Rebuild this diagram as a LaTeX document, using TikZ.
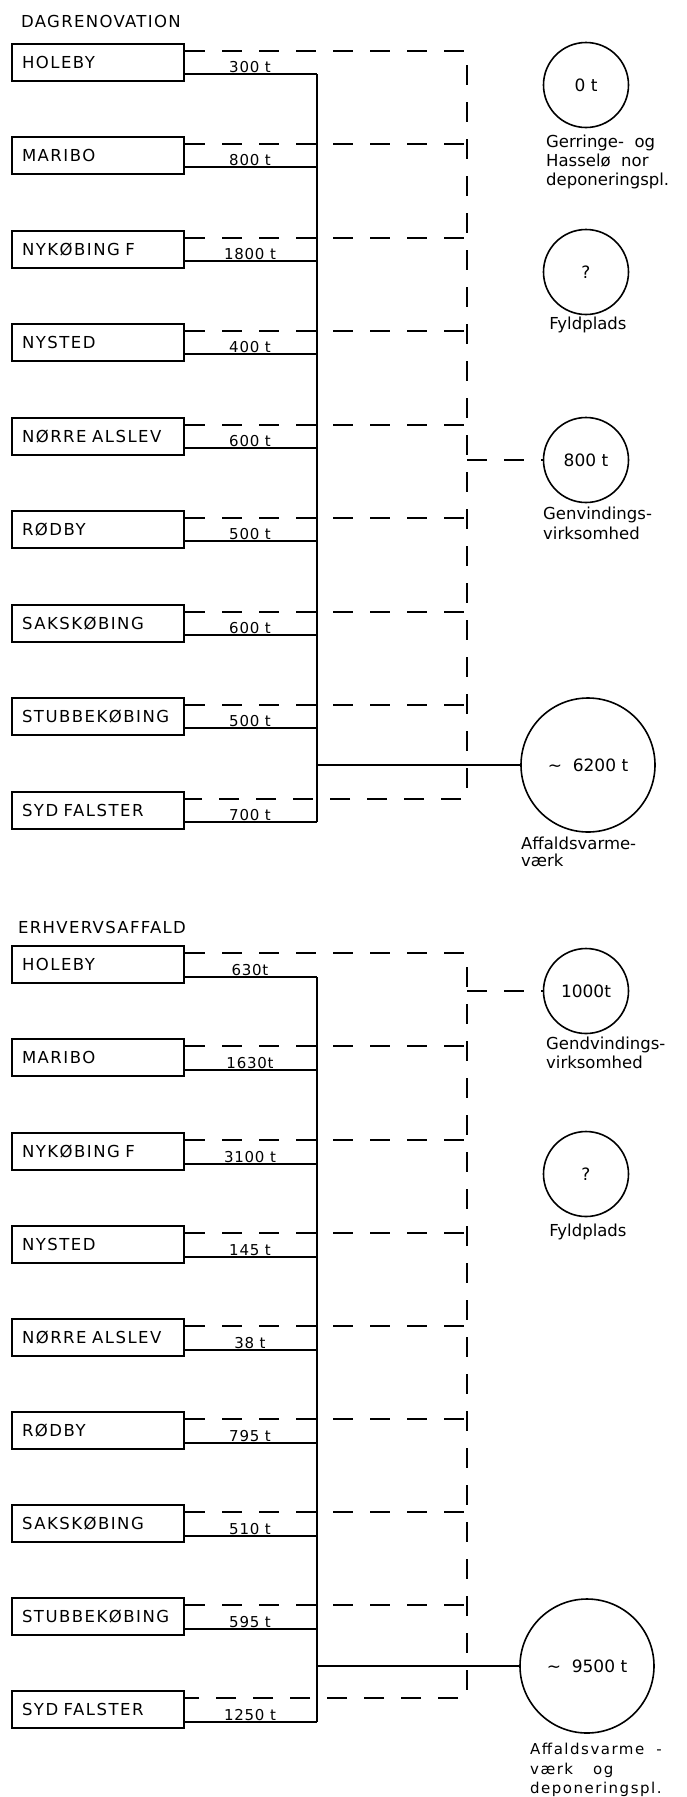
\documentclass[tikz,border=0pt]{standalone}
\usepackage{fontspec}
\setmainfont{DejaVu Sans}
\begin{document}
\begin{tikzpicture}[x=1pt,y=-1pt,
  every node/.style={inner sep=0pt},
  town/.style={draw, line width=2pt, anchor=north west, minimum width=172pt,
    minimum height=37pt, text width=152pt, inner xsep=10pt, align=left,
    font=\fontsize{16.5}{18}\selectfont\addfontfeatures{LetterSpace=9}},
  amt/.style={anchor=south, inner sep=1pt,
    font=\fontsize{15}{17}\selectfont\addfontfeatures{LetterSpace=5}},
  flow/.style={line width=2pt},
  alt/.style={line width=2pt, dash pattern=on 20pt off 17pt},
  site/.style={circle, draw, line width=1.6pt, minimum size=85pt,
    font=\fontsize{17}{19}\selectfont},
  plant/.style={site, minimum size=134pt},
  sitenote/.style={anchor=north west, align=left},
  head/.style={anchor=base west,
    font=\fontsize{16.5}{18}\selectfont\addfontfeatures{LetterSpace=8}}]
\useasboundingbox (0,0) rectangle (687,1797);

% ---------------- DAGRENOVATION ----------------
\node[head] (t1) at (21,27) {DAGRENOVATION};
\foreach \lab/\amt [count=\i from 0] in {HOLEBY/300 t, MARIBO/800 t,
    NYKØBING F/1800 t, NYSTED/400 t, NØRRE ALSLEV/600 t, RØDBY/500 t,
    SAKSKØBING/600 t, STUBBEKØBING/500 t, SYD FALSTER/700 t}{
  \pgfmathsetmacro\dy{round(50.5+93.5*\i)}
  \node[town] (u\i) at (11,\dy-8) {\lab};
  \coordinate (ud\i) at (467,\dy);
  \coordinate (us\i) at (317,\dy+23);
  \draw[flow] (u\i.east |- us\i) -- (us\i);
  \node[amt] (ua\i) at (250,\dy+23) {\amt};
}
\foreach \i in {1,...,7}{\draw[alt] (u\i.north east |- ud\i) -- (ud\i);}
\draw[alt] (u0.north east |- ud0) -- (ud0) -- (ud8) -- (u8.north east |- ud8);
\draw[flow] (us0) -- (us8);

\node[site] (c1) at (586,85) {0 t};
\node[sitenote, font=\fontsize{16.5}{19}\selectfont] (k1) at (546,135)
  {Gerringe-\ \ og\\Hasselø\ \ nor\\deponeringspl.};
\node[site] (c2) at (586,272) {?};
\node[sitenote, anchor=north, font=\fontsize{16.5}{21}\selectfont] (k2) at (588,317) {Fyldplads};
\node[site] (c3) at (586,460) {800 t};
\node[sitenote, font=\fontsize{16.5}{20}\selectfont] (k3) at (543,507)
  {Genvindings-\\virksomhed};
\node[plant] (c4) at (588,765) {\textasciitilde\ \ 6200 t};
\node[sitenote, font=\fontsize{16.5}{17}\selectfont] (k4) at (521,837)
  {Affaldsvarme-\\værk};
\coordinate (ub) at (467,460);
\draw[alt] (ub) -- (c3.west);
\coordinate (um) at (317,765);
\draw[flow] (um) -- (c4.west);

% ---------------- ERHVERVSAFFALD ----------------
\node[head] (t2) at (18,933) {ERHVERVSAFFALD};
\foreach \lab/\amt [count=\i from 0] in {HOLEBY/630t, MARIBO/1630t,
    NYKØBING F/3100 t, NYSTED/145 t, NØRRE ALSLEV/38 t, RØDBY/795 t,
    SAKSKØBING/510 t, STUBBEKØBING/595 t, SYD FALSTER/1250 t}{
  \pgfmathsetmacro\dy{round(953.3+93.1*\i)}
  \node[town] (l\i) at (11,\dy-8) {\lab};
  \coordinate (ld\i) at (467,\dy);
  \coordinate (ls\i) at (317,\dy+24);
  \draw[flow] (l\i.east |- ls\i) -- (ls\i);
  \node[amt] (la\i) at (250,\dy+24) {\amt};
}
\foreach \i in {1,...,7}{\draw[alt] (l\i.north east |- ld\i) -- (ld\i);}
\draw[alt] (l0.north east |- ld0) -- (ld0) -- (ld8) -- (l8.north east |- ld8);
\draw[flow] (ls0) -- (ls8);

\node[site] (c5) at (586,991) {1000t};
\node[sitenote, font=\fontsize{16.5}{18.5}\selectfont] (k5) at (546,1037)
  {Gendvindings-\\virksomhed};
\node[site] (c6) at (586,1174) {?};
\node[sitenote, anchor=north, font=\fontsize{16.5}{21}\selectfont] (k6) at (588,1224) {Fyldplads};
\node[plant] (c7) at (587,1666) {\textasciitilde\ \ 9500 t};
\node[sitenote, font=\fontsize{15}{19.5}\selectfont\addfontfeatures{LetterSpace=10}] (k7) at (530,1743)
  {Affaldsvarme\hspace{12pt}-\\værk\hspace{20pt}og\\deponeringspl.};
\coordinate (lb) at (467,991);
\draw[alt] (lb) -- (c5.west);
\coordinate (lm) at (317,1666);
\draw[flow] (lm) -- (c7.west);
\end{tikzpicture}
\end{document}
